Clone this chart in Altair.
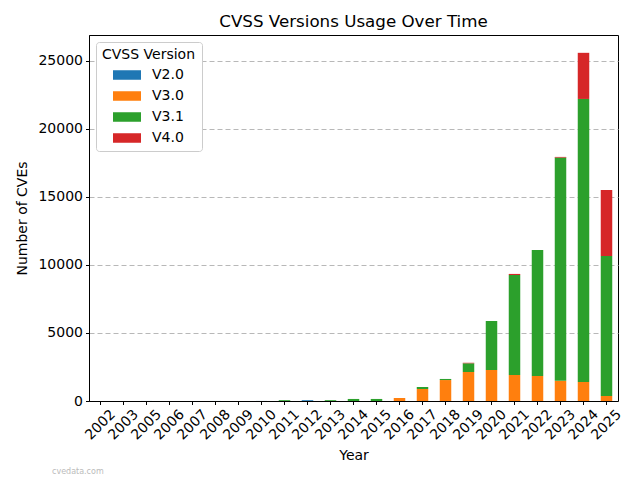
import altair as alt
import pandas as pd

years = ["2002", "2003", "2005", "2006", "2007", "2008", "2009", "2010", "2011", "2012",
         "2013", "2014", "2015", "2016", "2017", "2018", "2019", "2020", "2021", "2022",
         "2023", "2024", "2025"]
v20 = [2, 1, 3, 2, 2, 3, 2, 4, 0, 60, 0, 0, 0, 0, 0, 0, 0, 0, 0, 0, 0, 0, 0]
v30 = [0, 0, 0, 0, 0, 0, 0, 0, 0, 0, 0, 0, 0, 220, 880, 1540, 2130, 2280, 1910, 1840, 1480, 1400, 370]
v31 = [0, 0, 0, 0, 0, 0, 0, 0, 60, 0, 60, 150, 150, 0, 150, 80, 640, 3600, 7350, 9260, 16410, 20800, 10290]
v40 = [0, 0, 0, 0, 0, 0, 0, 0, 0, 0, 0, 0, 0, 0, 0, 0, 40, 0, 80, 0, 50, 3390, 4850]
versions = ["V2.0", "V3.0", "V3.1", "V4.0"]
colors = ["#1f77b4", "#ff7f0e", "#2ca02c", "#d62728"]

rows = []
for name, vals in zip(versions, [v20, v30, v31, v40]):
    for y, v in zip(years, vals):
        rows.append({"Year": y, "Version": name, "Count": v})
df = pd.DataFrame(rows)

font = "DejaVu Sans"

bars = alt.Chart(df).mark_bar().encode(
    x=alt.X("Year:N", sort=years,
            scale=alt.Scale(paddingInner=0.5, paddingOuter=0.25),
            axis=alt.Axis(title="Year", labelAngle=-45, labelAlign="center",
                          labelBaseline="middle", labelPadding=20, titlePadding=6,
                          tickSize=3.5, grid=False)),
    y=alt.Y("Count:Q", stack="zero",
            scale=alt.Scale(domain=[0, 26900], nice=False),
            axis=alt.Axis(title="Number of CVEs", values=[0, 5000, 10000, 15000, 20000, 25000],
                          format="d", tickSize=3.5, labelPadding=3, titlePadding=8,
                          grid=True, gridDash=[5, 3], gridColor="#b8b8b8", gridWidth=1)),
    color=alt.Color("Version:N", sort=versions,
                    scale=alt.Scale(domain=versions, range=colors),
                    legend=alt.Legend(title="CVSS Version", orient="none", legendX=7, legendY=7,
                                      symbolType="M-2,-0.68H2V0.68H-2Z", symbolSize=196,
                                      symbolStrokeWidth=0, symbolOffset=18, fillColor="white",
                                      strokeColor="#cccccc", cornerRadius=3, padding=6,
                                      rowPadding=7, labelOffset=18, titlePadding=6,
                                      titleFontWeight="normal", titleFontSize=14,
                                      labelFontSize=14, titleFont=font, labelFont=font,
                                      titleColor="black", labelColor="black")),
    order=alt.Order("Version:N", sort="ascending"),
)

wm = alt.Chart(pd.DataFrame({"t": ["cvedata.com"]})).mark_text(
    align="left", baseline="middle", fontSize=8, color="#bbbbbb", font=font
).encode(x=alt.value(-37), y=alt.value(437), text="t:N")

chart = alt.layer(bars, wm).properties(
    width=529, height=366,
    title=alt.Title("CVSS Versions Usage Over Time", fontSize=16.7, font=font,
                    fontWeight="normal", color="black", offset=4),
    autosize=alt.AutoSizeParams(type="none"),
    padding={"left": 81, "top": 27, "right": 14, "bottom": 77},
).configure_view(stroke="black", strokeWidth=1).configure_axis(
    labelFont=font, titleFont=font, labelFontSize=14, titleFontSize=14,
    labelColor="black", titleColor="black", titleFontWeight="normal",
    domainColor="black", tickColor="black", domainWidth=1, tickWidth=1
)

chart.save("out.html", embed_options={"renderer": "svg", "actions": False})
